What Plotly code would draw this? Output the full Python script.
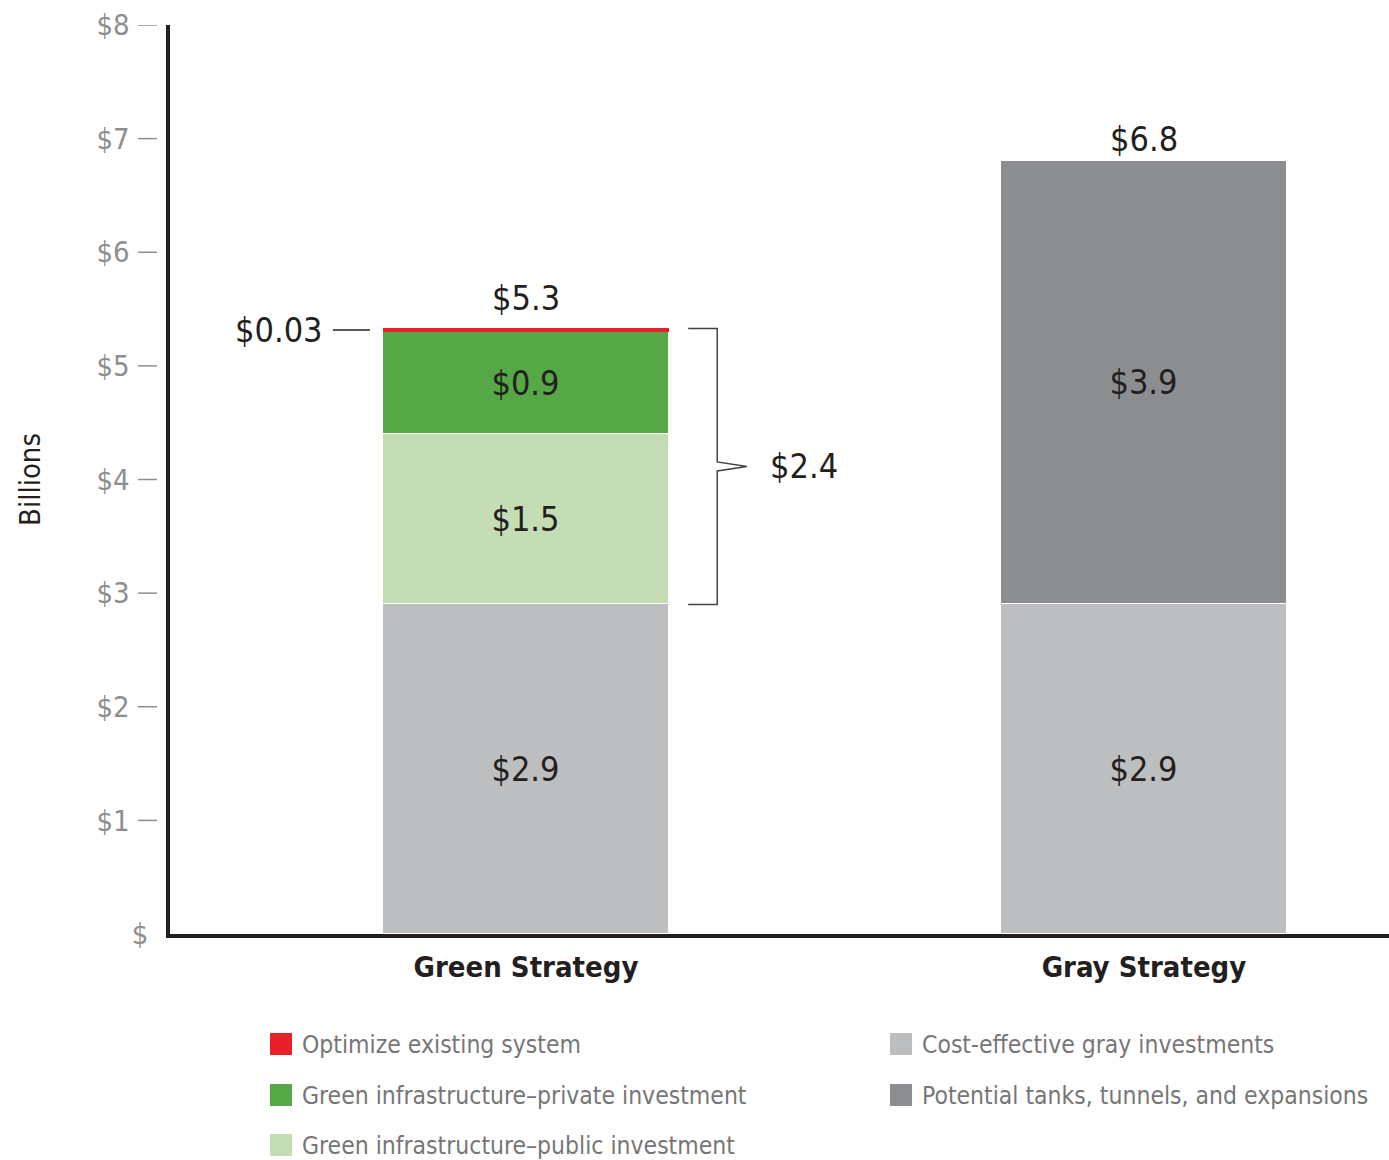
import plotly.graph_objects as go

# ---- data (billions of dollars) ----
strategies = ["Green Strategy", "Gray Strategy"]
series_names = [
    "Cost-effective gray investments",
    "Green infrastructure\u2013public investment",
    "Green infrastructure\u2013private investment",
    "Optimize existing system",
    "Potential tanks, tunnels, and expansions",
]
gray_invest = [2.9, 2.9]          # both strategies
green_public = [1.5]              # green strategy only
green_private = [0.9]             # green strategy only
optimize = [0.03]                 # green strategy only
tanks_tunnels = [3.9]             # gray strategy only
totals = [5.3, 6.8]
y_ticks = [0, 1, 2, 3, 4, 5, 6, 7, 8]

colors = {
    "gray": "#BDBEC0",
    "public": "#C4DDB5",
    "private": "#56A846",
    "optimize": "#E8202A",
    "tanks": "#8C8D90",
}
FONT = "DejaVu Sans Condensed, Roboto, sans-serif"
INK = "#231F20"
TICK_GRAY = "#8E8E8E"
LEGEND_GRAY = "#767676"

W, H = 1389, 1160
M_L, M_R, M_T, M_B = 170, 0, 25, 226
PW, PH = W - M_L - M_R, H - M_T - M_B

xpos = [0, 1]
bar_w = 0.463
x_range = [-0.576, 1.3965]


def money(v):
    return f"${v:g}"


fig = go.Figure()
common = dict(width=bar_w, marker_line_color="white", marker_line_width=1,
              textposition="inside", insidetextanchor="middle",
              constraintext="none", showlegend=False,
              textfont=dict(family=FONT, size=34, color=INK))
fig.add_trace(go.Bar(x=xpos, y=gray_invest, name=series_names[0],
                     marker_color=colors["gray"],
                     text=[money(v) for v in gray_invest], **common))
fig.add_trace(go.Bar(x=[0], y=green_public, name=series_names[1],
                     marker_color=colors["public"],
                     text=[money(v) for v in green_public], **common))
fig.add_trace(go.Bar(x=[0], y=green_private, name=series_names[2],
                     marker_color=colors["private"],
                     text=[money(v) for v in green_private], **common))
fig.add_trace(go.Bar(x=[0], y=optimize, name=series_names[3],
                     marker_color=colors["optimize"], width=bar_w,
                     marker_line_width=0, showlegend=False))
fig.add_trace(go.Bar(x=[1], y=tanks_tunnels, name=series_names[4],
                     marker_color=colors["tanks"],
                     text=[money(v) for v in tanks_tunnels], **common))

annotations = []
shapes = []

# totals above each bar
green_top = gray_invest[0] + green_public[0] + green_private[0] + optimize[0]
gray_top = gray_invest[1] + tanks_tunnels[0]
for x, top, label, shift in zip(xpos, [green_top, gray_top], totals, [8, 0]):
    annotations.append(dict(x=x, y=top, xref="x", yref="y", text=money(label),
                            showarrow=False, yanchor="bottom", yshift=shift,
                            font=dict(family=FONT, size=34, color=INK)))

# callout for the thin "optimize" slice
opt_mid = green_top - optimize[0] / 2
left_edge = xpos[0] - bar_w / 2
shapes.append(dict(type="line", xref="x", yref="y",
                   x0=left_edge - 0.081, x1=left_edge - 0.021,
                   y0=opt_mid, y1=opt_mid, line=dict(color=INK, width=1.5)))
annotations.append(dict(x=left_edge - 0.094, y=opt_mid, xref="x", yref="y",
                        text=money(optimize[0]), showarrow=False,
                        xanchor="right", yanchor="middle",
                        font=dict(family=FONT, size=34, color=INK)))

# bracket around the green infrastructure + optimize portion
b_lo = gray_invest[0]
b_hi = green_top
b_mid = (b_lo + b_hi) / 2
right_edge = xpos[0] + bar_w / 2
bx0 = right_edge + 0.031
bx1 = right_edge + 0.078
btip = right_edge + 0.126
notch = 0.04
path = (f"M {bx0},{b_hi} L {bx1},{b_hi} L {bx1},{b_mid + notch} "
        f"L {btip},{b_mid} L {bx1},{b_mid - notch} L {bx1},{b_lo} L {bx0},{b_lo}")
shapes.append(dict(type="path", xref="x", yref="y", path=path,
                   line=dict(color="#444444", width=1.5)))
annotations.append(dict(x=btip + 0.034, y=b_mid, xref="x", yref="y",
                        text=money(round(b_hi - b_lo, 1)), showarrow=False,
                        xanchor="left", yanchor="middle",
                        font=dict(family=FONT, size=34, color=INK)))


# ---- legend drawn as swatches + labels below the plot ----
def px_to_paper(px, py):
    return (px - M_L) / PW, (H - M_B - py) / PH


legend_items = [
    (series_names[3], colors["optimize"], 270, 1044),
    (series_names[2], colors["private"], 270, 1095),
    (series_names[1], colors["public"], 270, 1145),
    (series_names[0], colors["gray"], 890, 1044),
    (series_names[4], colors["tanks"], 890, 1095),
]
sw = 22
for name, col, lx, ly in legend_items:
    x0, y0 = px_to_paper(lx, ly + sw / 2)
    x1, y1 = px_to_paper(lx + sw, ly - sw / 2)
    shapes.append(dict(type="rect", xref="paper", yref="paper",
                       x0=x0, x1=x1, y0=y0, y1=y1,
                       fillcolor=col, line=dict(width=0)))
    tx, ty = px_to_paper(lx + sw + 8, ly)
    annotations.append(dict(x=tx, y=ty, xref="paper", yref="paper", text=name,
                            showarrow=False, xanchor="left", yanchor="middle",
                            font=dict(family=FONT, size=24.5, color=LEGEND_GRAY)))

# detached tick dashes between the labels and the axis line
dash_x0 = -32 / PW
dash_x1 = -13 / PW
for v in y_ticks[1:]:
    shapes.append(dict(type="line", xref="paper", yref="y",
                       x0=dash_x0, x1=dash_x1, y0=v, y1=v,
                       line=dict(color=TICK_GRAY, width=1.5)))

pad = "<span style='color:rgba(0,0,0,0)'>--</span>"
tick_text = ["$"] + [f"${v}{pad}" for v in y_ticks[1:]]

fig.update_layout(
    width=W, height=H,
    margin=dict(l=M_L, r=M_R, t=M_T, b=M_B),
    barmode="stack", bargap=0,
    plot_bgcolor="white", paper_bgcolor="white",
    font=dict(family=FONT, color=INK),
    shapes=shapes, annotations=annotations,
    xaxis=dict(range=x_range, tickvals=xpos, ticktext=strategies,
               showgrid=False, zeroline=False, showline=True,
               linecolor=INK, linewidth=3.5, ticks="",
               tickfont=dict(family=FONT, size=29, color=INK, weight="bold"),
               ticklabelstandoff=4),
    yaxis=dict(range=[0, 8], tickvals=y_ticks, ticktext=tick_text,
               showgrid=False, zeroline=False, showline=True,
               linecolor=INK, linewidth=3.5, ticks="",
               tickfont=dict(family=FONT, size=29, color=TICK_GRAY),
               ticklabelstandoff=12,
               title=dict(text="Billions", standoff=48,
                          font=dict(family=FONT, size=29, color=INK))),
)

fig.write_html("out.html")
